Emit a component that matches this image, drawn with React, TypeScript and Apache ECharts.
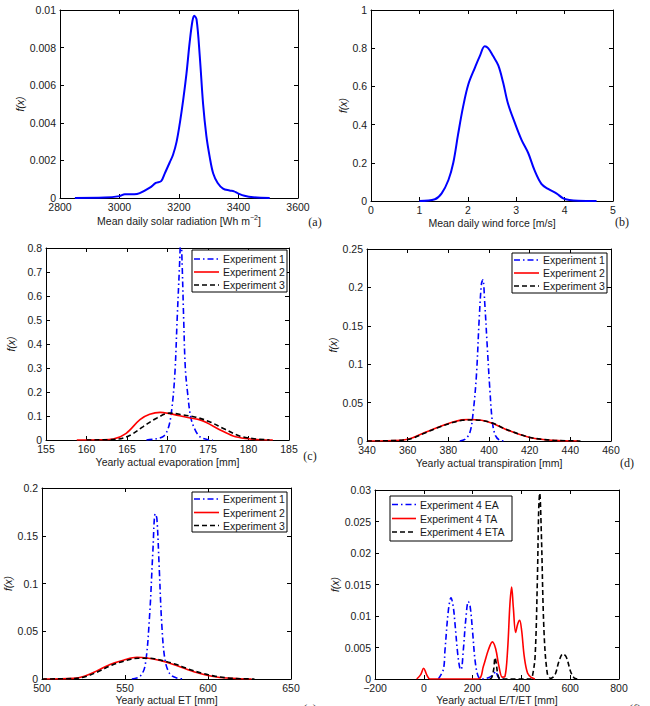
import React, { useEffect, useRef } from "react";
import * as echarts from "echarts";

// ---------- data ----------
const solarRadiation = [
  [2850, 0], [2950, 0.00002], [3000, 0.0001], [3018, 0.0002], [3050, 0.0002], [3068, 0.00026],
  [3102, 0.00055], [3122, 0.0008], [3140, 0.0009], [3152, 0.0013], [3169, 0.0019], [3180, 0.0023],
  [3192, 0.003], [3203, 0.004], [3214, 0.0052], [3225, 0.0066], [3236, 0.0083], [3245, 0.0094],
  [3251, 0.0097], [3259, 0.0095], [3270, 0.0075], [3281, 0.005], [3292, 0.0033], [3303, 0.0022],
  [3315, 0.0013], [3330, 0.0008], [3348, 0.0005], [3370, 0.0004], [3385, 0.00035], [3398, 0.00025],
  [3420, 0.00012], [3450, 0.00004], [3505, 0],
];
const windForce = [
  [1.0, 0], [1.32, 0.009], [1.46, 0.04], [1.6, 0.11], [1.7, 0.2], [1.8, 0.35], [1.9, 0.49],
  [2.01, 0.61], [2.15, 0.7], [2.25, 0.76], [2.35, 0.81], [2.42, 0.8], [2.52, 0.76], [2.63, 0.71],
  [2.73, 0.62], [2.83, 0.51], [2.97, 0.41], [3.11, 0.32], [3.25, 0.25], [3.38, 0.16], [3.52, 0.09],
  [3.66, 0.063], [3.83, 0.04], [3.97, 0.014], [4.1, 0.005], [4.28, 0.001], [4.66, 0],
];
const evapExp1 = [
  [167.4, 0], [168.6, 0.005], [169.5, 0.015], [170.1, 0.05], [170.5, 0.12], [170.9, 0.27],
  [171.2, 0.51], [171.5, 0.74], [171.65, 0.86], [171.8, 0.74], [172.0, 0.5], [172.2, 0.3],
  [172.5, 0.19], [172.9, 0.09], [173.5, 0.036], [174.1, 0.011], [174.9, 0.002], [175.6, 0],
];
const evapExp2 = [
  [158.8, 0], [161.7, 0.001], [163.3, 0.004], [164.9, 0.028], [166.6, 0.085], [167.8, 0.107],
  [169.1, 0.115], [170.1, 0.111], [171.5, 0.101], [172.8, 0.092], [173.8, 0.086], [174.8, 0.073],
  [176.5, 0.042], [178.1, 0.017], [179.7, 0.006], [181.4, 0.001], [183, 0],
];
const evapExp3 = [
  [160, 0], [163.7, 0.003], [165.4, 0.02], [167, 0.056], [168.7, 0.092], [170.3, 0.112],
  [171.5, 0.107], [173.5, 0.095], [175.2, 0.076], [176.9, 0.048], [178.9, 0.017], [180.5, 0.006],
  [182.6, 0],
];
const transExp1 = [
  [385.6, 0], [388.1, 0.002], [390.6, 0.011], [392.2, 0.037], [393.8, 0.085], [395.2, 0.16],
  [396.3, 0.205], [397, 0.21], [397.9, 0.18], [399.1, 0.125], [400.4, 0.068], [401.7, 0.024],
  [403.2, 0.007], [405.3, 0.001], [407.8, 0],
];
const transExp2 = [
  [340.5, 0], [356.9, 0.001], [361.8, 0.0035], [368.4, 0.011], [375, 0.018], [381.5, 0.024],
  [386.5, 0.0275], [389.8, 0.028], [396.3, 0.027], [401.2, 0.0235], [407.8, 0.0157], [414.4, 0.009],
  [421, 0.004], [427.5, 0.0017], [434, 0.0005], [444, 0],
];
const transExp3 = [
  [340, 0], [357, 0.001], [362, 0.0033], [368.5, 0.0105], [375, 0.0175], [381.5, 0.0235],
  [387, 0.027], [392, 0.0275], [397, 0.0265], [402, 0.023], [408, 0.0158], [414.5, 0.0092],
  [421, 0.0042], [427.5, 0.0018], [434, 0.0006], [445, 0],
];
const etExp1 = [
  [554.1, 0], [559.2, 0.003], [562.2, 0.015], [564.8, 0.066], [566.8, 0.134], [568.2, 0.173],
  [569.2, 0.168], [570.6, 0.117], [572.2, 0.056], [574.2, 0.019], [577.2, 0.005], [581.2, 0.001],
  [585.2, 0],
];
const etExp2 = [
  [501, 0], [519, 0.0007], [525, 0.0027], [533, 0.0085], [541, 0.0153], [549, 0.0197],
  [557.2, 0.0227], [563.2, 0.022], [571.2, 0.0193], [579.2, 0.0153], [587.2, 0.0102],
  [595.2, 0.0058], [603.3, 0.0027], [611.3, 0.001], [619.3, 0.0003], [626.3, 0],
];
const etExp3 = [
  [500, 0], [520, 0.0006], [526, 0.0024], [534, 0.0078], [542, 0.0145], [550, 0.019],
  [558, 0.0218], [564, 0.0218], [572, 0.0195], [580, 0.0157], [588, 0.0106], [596, 0.0062],
  [604, 0.003], [612, 0.0011], [620, 0.0003], [628, 0],
];
const eaExp4 = [
  [59.6, 0], [80, 0.0015], [86.9, 0.0046], [100.5, 0.0108], [111.5, 0.0129], [121, 0.0114],
  [128, 0.0087], [139, 0.004], [148.4, 0.0016], [153, 0.0015], [162, 0.0046], [171.7, 0.0093],
  [182.5, 0.0123], [190, 0.0115], [200, 0.0075], [210, 0.003], [222, 0.0005], [235, 0],
  [264.5, 0.0002], [285, 0.0007], [294.5, 0.0012], [305.5, 0.0003], [326, 0],
];
const taExp4 = [
  [-29, 0], [-12.8, 0.0007], [-0.5, 0.0017], [11.7, 0.0007], [25.4, 0], [223.5, 0], [244, 0.002],
  [264.5, 0.0046], [281, 0.0059], [294.5, 0.0048], [308, 0.002], [321.6, 0.0003], [332.5, 0.0004],
  [343.4, 0.0046], [353, 0.0119], [360, 0.0146], [366.8, 0.0114], [376.4, 0.0074], [384.6, 0.0087],
  [392.8, 0.0093], [401, 0.0077], [411.9, 0.0035], [425.5, 0.0009], [442, 0.0002], [455.6, 0],
];
const etaExp4 = [
  [270, 0], [278, 0.0002], [286.3, 0.0015], [292, 0.0034], [297, 0.0025], [303, 0.0008],
  [312.6, 0], [440, 0], [445, 0.0004], [456, 0.0035], [465.3, 0.0155], [471, 0.027], [475, 0.0295],
  [481.6, 0.0233], [492.5, 0.0077], [506.1, 0.0009], [519.8, 0.0001], [530, 0.0003],
  [540.3, 0.0009], [554, 0.0028], [570, 0.004], [583.8, 0.0035], [601.5, 0.0012], [615.3, 0.0002],
  [629, 0],
];

// axis ranges per panel (a..f)
const xMins = [2800, 0, 155, 340, 500, -200];
const xMaxs = [3600, 5, 185, 460, 650, 800];
const xSteps = [200, 1, 5, 20, 50, 200];
const yMaxs = [0.01, 1, 0.8, 0.25, 0.2, 0.03];
const ySteps = [0.002, 0.2, 0.1, 0.05, 0.05, 0.005];
const xNames = [
  "Mean daily solar radiation [Wh m{sup|−2}]",
  "Mean daily wind force [m/s]",
  "Yearly actual evaporation [mm]",
  "Yearly actual transpiration [mm]",
  "Yearly actual ET [mm]",
  "Yearly actual E/T/ET [mm]",
];
const panelTags = ["(a)", "(b)", "(c)", "(d)", "(e)", "(f)"];
const expNames = ["Experiment 1", "Experiment 2", "Experiment 3"];
const exp4Names = ["Experiment 4 EA", "Experiment 4 TA", "Experiment 4 ETA"];

// ---------- layout ----------
const grids = [
  { left: 60, top: 10, width: 238, height: 188 },
  { left: 371, top: 10, width: 242, height: 191 },
  { left: 46, top: 248, width: 243, height: 192 },
  { left: 367, top: 249, width: 244, height: 192 },
  { left: 42, top: 488, width: 249, height: 197 },
  { left: 375, top: 490, width: 244, height: 196 },
];
const yNameGaps = [33, 22, 30, 27, 27, 34];
const xNameGaps = [16, 16, 16, 16, 15, 15];
const tagPos = [
  [315, 222], [622, 222], [310, 456], [627, 463], [310, 709], [635, 709],
];

const BLUE = "#0000ff";
const RED = "#ff0000";
const BLACK = "#000000";
const styles = [
  { color: BLUE, type: [6, 3, 1.5, 3] as any },
  { color: RED, type: "solid" as any },
  { color: BLACK, type: [5, 3] as any },
];

const FONT = "'Liberation Sans', Arial, Helvetica, sans-serif";
const TXT = "#1a1a1a";

function fmt(v: number) {
  const s = String(+v.toFixed(6));
  return s.replace("-", "−");
}

function legendGraphics(x: number, y: number, w: number, h: number, names: string[], rowYs: number[], sampleW: number) {
  const els: any[] = [
    { type: "rect", shape: { x, y, width: w, height: h }, style: { fill: "#fff", stroke: "#000", lineWidth: 1 }, z: 100 },
  ];
  names.forEach((n, i) => {
    const st = styles[i];
    els.push({
      type: "line",
      shape: { x1: x + 2, y1: rowYs[i], x2: x + 2 + sampleW, y2: rowYs[i] },
      style: { stroke: st.color, lineWidth: 1.6, lineDash: st.type === "solid" ? null : st.type },
      z: 101,
    });
    els.push({
      type: "text",
      x: x + sampleW + 6,
      y: rowYs[i],
      style: { text: n, font: `10.5px ${FONT}`, fill: TXT, verticalAlign: "middle", textAlign: "left" },
      z: 101,
    });
  });
  return els;
}

export default function App() {
  const ref = useRef<HTMLDivElement>(null);
  useEffect(() => {
    if (!ref.current) return;
    const chart = echarts.init(ref.current, null, { renderer: "svg" });

    const xAxis: any[] = [];
    const yAxis: any[] = [];
    const tick = { inside: true, length: 4, lineStyle: { color: "#000" } };
    const line = { show: true, onZero: false, lineStyle: { color: "#000", width: 1 } };
    for (let i = 0; i < 6; i++) {
      xAxis.push({
        type: "value", gridIndex: i, min: xMins[i], max: xMaxs[i], interval: xSteps[i], position: "bottom",
        axisLine: line, axisTick: tick, splitLine: { show: false },
        axisLabel: { color: TXT, fontSize: 10.5, fontFamily: FONT, margin: 3, formatter: fmt, showMinLabel: true, showMaxLabel: true },
        name: xNames[i], nameLocation: "middle", nameGap: xNameGaps[i],
        nameTextStyle: {
          color: TXT, fontSize: 10.5, fontFamily: FONT,
          rich: { sup: { fontSize: 7, fontFamily: FONT, color: TXT, padding: [0, 0, 7, 0] } },
        },
      });
      yAxis.push({
        type: "value", gridIndex: i, min: 0, max: yMaxs[i], interval: ySteps[i], position: "left",
        axisLine: line, axisTick: tick, splitLine: { show: false },
        axisLabel: { color: TXT, fontSize: 10.5, fontFamily: FONT, margin: 4, formatter: fmt, showMinLabel: true, showMaxLabel: true },
        name: "f(x)", nameLocation: "middle", nameGap: yNameGaps[i], nameRotate: 90,
        nameTextStyle: { color: TXT, fontSize: 10.5, fontFamily: FONT, fontStyle: "italic" },
      });
    }
    for (let i = 0; i < 6; i++) {
      xAxis.push({
        type: "value", gridIndex: i, min: xMins[i], max: xMaxs[i], interval: xSteps[i], position: "top",
        axisLine: line, axisTick: tick, axisLabel: { show: false }, splitLine: { show: false },
      });
      yAxis.push({
        type: "value", gridIndex: i, min: 0, max: yMaxs[i], interval: ySteps[i], position: "right",
        axisLine: line, axisTick: tick, axisLabel: { show: false }, splitLine: { show: false },
      });
    }

    const mk = (name: string, data: number[][], idx: number, st: any, width = 1.6) => ({
      type: "line", name, data, xAxisIndex: idx, yAxisIndex: idx, showSymbol: false, symbol: "none",
      smooth: 0.35, clip: true,
      lineStyle: { color: st.color, type: st.type, width },
      z: 3,
    });

    const series: any[] = [
      mk("Solar radiation", solarRadiation, 0, { color: BLUE, type: "solid" }, 2),
      mk("Wind force", windForce, 1, { color: BLUE, type: "solid" }, 2),
      mk(expNames[0], evapExp1, 2, styles[0]),
      mk(expNames[1], evapExp2, 2, styles[1]),
      mk(expNames[2], evapExp3, 2, styles[2]),
      mk(expNames[0], transExp1, 3, styles[0]),
      mk(expNames[1], transExp2, 3, styles[1]),
      mk(expNames[2], transExp3, 3, styles[2]),
      mk(expNames[0], etExp1, 4, styles[0]),
      mk(expNames[1], etExp2, 4, styles[1]),
      mk(expNames[2], etExp3, 4, styles[2]),
      mk(exp4Names[0], eaExp4, 5, styles[0]),
      mk(exp4Names[1], taExp4, 5, styles[1]),
      mk(exp4Names[2], etaExp4, 5, styles[2]),
    ];

    const graphic: any[] = [
      ...legendGraphics(192, 250, 95, 42, expNames, [259, 272, 285], 25),
      ...legendGraphics(512, 253, 95, 40, expNames, [260, 273, 286], 25),
      ...legendGraphics(192, 492, 95, 40, expNames, [499, 512.5, 525.5], 25),
      ...legendGraphics(390, 496, 122, 45, exp4Names, [504.5, 518.5, 532], 24),
      ...panelTags.map((t, i) => ({
        type: "text", x: tagPos[i][0], y: tagPos[i][1],
        style: { text: t, font: "12px 'Liberation Serif', 'Times New Roman', serif", fill: TXT, textAlign: "center", verticalAlign: "middle" },
      })),
    ];

    chart.setOption({
      animation: false,
      backgroundColor: "#ffffff",
      grid: grids.map((g) => ({ ...g, containLabel: false })),
      xAxis,
      yAxis,
      series,
      graphic,
    });
    return () => chart.dispose();
  }, []);
  return <div ref={ref} style={{ position: "absolute", left: 0, top: 0, width: 650, height: 706 }} />;
}
